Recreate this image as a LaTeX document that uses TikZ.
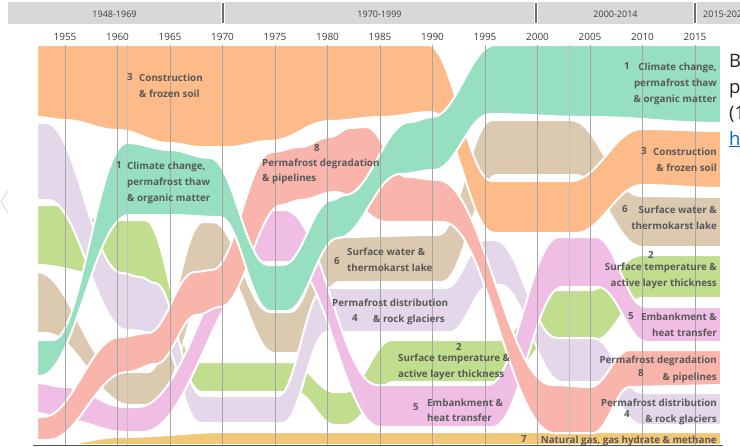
\documentclass[tikz,border=0pt]{standalone}
\usepackage{fontspec}
\setmainfont{Open Sans}
\usetikzlibrary{calc}

\definecolor{orangeband}{RGB}{253,187,137}
\definecolor{tealband}{RGB}{150,224,193}
\definecolor{salmonband}{RGB}{249,180,172}
\definecolor{tanband}{RGB}{219,201,176}
\definecolor{lavband}{RGB}{228,215,233}
\definecolor{limeband}{RGB}{193,221,142}
\definecolor{pinkband}{RGB}{240,190,228}
\definecolor{goldband}{RGB}{240,200,118}
\definecolor{headgrey}{RGB}{216,216,216}
\definecolor{sepgrey}{RGB}{110,110,110}
\definecolor{gridgrey}{RGB}{165,165,165}
\definecolor{axisgrey}{RGB}{85,85,85}
\definecolor{labelgrey}{RGB}{88,88,88}
\definecolor{yeargrey}{RGB}{60,60,60}
\definecolor{linkblue}{RGB}{5,99,193}

\begin{document}
\begin{tikzpicture}[x=1pt,y=-1pt,
    ease/.style={to path={let \p1=(\tikztostart), \p2=(\tikztotarget),
        \n1={(\x2-\x1)/2.6} in .. controls +(\n1,0) and +(-\n1,0) .. (\tikztotarget)}},
    band/.style={draw=white,line width=2pt,line join=round,every to/.style={ease}},
    gridline/.style={draw=gridgrey,line width=0.8pt},
    lbl/.style={font=\fontsize{9.8}{12}\selectfont\bfseries,text=labelgrey,inner sep=0pt},
    yearlbl/.style={font=\fontsize{10}{12}\selectfont,text=yeargrey,inner sep=0pt},
    headlbl/.style={font=\fontsize{9}{11}\selectfont,text=yeargrey,inner sep=0pt},
    sidetxt/.style={font=\fontsize{18.5}{22}\selectfont,text=black!85,inner sep=0pt,anchor=base west}]
\path[use as bounding box] (0,0) rectangle (740,447);

% period header
\fill[headgrey] (8,2) rectangle (221,24);
\fill[headgrey] (225,2) rectangle (534,24);
\fill[headgrey] (538,2) rectangle (693,24);
\fill[headgrey] (697,2) rectangle (740,24);
\fill[sepgrey] (222,3) rectangle (224,23);
\fill[sepgrey] (535,3) rectangle (537,23);
\fill[sepgrey] (694,3) rectangle (696,23);
\node[headlbl] (h1) at (114.5,14) {1948-1969};
\node[headlbl] (h2) at (379.5,14) {1970-1999};
\node[headlbl] (h3) at (615.5,14) {2000-2014};
\node[headlbl,anchor=west] (h4) at (703,14) {2015-2020};

% bands
\fill[goldband,band] (55,445) to (120,437) to (230,432) -- (721,432) -- (721,445) -- cycle;
\fill[limeband,band] (37,205) to (60,205) to (105,220) to (145,220) to (197,362) to (290,362)
  to (335,392) to (345,392) to (392,340) to (500,340) to (547,290) to (590,290) to (642,255)
  -- (721,255) -- (721,298) -- (642,298) to (595,340) to (552,340) to (505,382) -- (394,382)
  to (345,425) to (335,425) to (295,392) -- (202,392) to (150,290) to (105,275) to (37,265) -- cycle;
\fill[tanband,band] (37,272) to (120,372) to (148,372) to (203,222) to (213,222) to (270,312)
  to (290,312) to (334,237) to (438,235) to (492,120) to (571,120) to (640,196) -- (721,197)
  -- (721,247) -- (642,247) to (576,175) to (497,175) to (442,282) -- (339,282) to (295,353)
  to (274,353) to (222,270) to (217,270) to (153,405) to (130,405) to (45,333) to (37,333) -- cycle;
\fill[lavband,band] (37,123) to (46,123) to (122,273) to (140,277) to (155,283) to (202,396)
  to (278,396) to (324,288) to (446,288) to (485,240) to (495,240) to (557,338) to (593,338)
  to (642,393) -- (721,393) -- (721,425) -- (642,425) to (598,382) to (562,382) to (500,285)
  to (490,285) to (450,332) -- (327,332) to (283,423) to (200,423) to (158,333) to (127,330)
  to (48,200) to (37,200) -- cycle;
\fill[pinkband,band] (37,383) to (65,387) to (125,407) to (138,407) to (272,210) to (285,210)
  to (377,385) to (488,385) to (559,237) to (596,237) to (645,307) -- (721,307) -- (721,342)
  -- (647,342) to (598,287) to (562,287) to (493,427) to (380,427) to (290,262) to (268,262)
  to (143,432) to (125,432) to (65,420) to (37,413) -- cycle;
\fill[salmonband,band] (37,417) to (43,417) to (120,337) to (148,333) to (195,272) to (212,270)
  to (272,152) to (300,147) to (330,137) to (350,128) to (366,127) to (407,177) to (438,180)
  to (552,385) to (590,387) to (630,350) -- (721,350) -- (721,385) -- (630,387) to (593,433)
  to (554,433) to (443,222) to (387,222) to (335,192) to (300,200) to (282,205) to (220,307)
  to (197,315) to (156,364) to (127,372) to (48,440) to (37,440) -- cycle;
\fill[orangeband,band] (37,45) -- (428,45) to (492,181) to (571,181) to (642,129) to (721,131)
  -- (721,188) to (642,185) to (576,233) to (494,233) to (432,112) to (380,117) to (330,121)
  to (270,141) to (228,147) to (200,147) to (170,143) to (117,130) to (65,120) to (37,117) -- cycle;
\fill[tealband,band] (37,340) to (53,340) to (127,143) to (170,150) to (210,158) to (268,265)
  to (283,265) to (332,200) to (345,195) to (410,122) to (432,117) to (495,45) -- (721,45)
  -- (721,123) to (590,117) to (490,114) to (434,170) to (400,174) to (338,238) to (287,311)
  to (270,311) to (220,217) to (170,215) to (129,215) to (40,376) -- (37,376) -- cycle;

% year grid
\foreach \yr in {1955,1960,...,2015}{
  \draw[gridline] ({65+(\yr-1955)*10.5},45) -- ({65+(\yr-1955)*10.5},445);
  \node[yearlbl] (y\yr) at ({65+(\yr-1955)*10.5},37) {\yr};
}
\draw[gridline,draw=gridgrey!70] (127,45) -- (127,445);
\draw[gridline,draw=gridgrey!70] (569,45) -- (569,445);
\draw[axisgrey,line width=1.3pt] (33,445.5) -- (723,445.5);

% topic labels, left part
\node[lbl] (n3a) at (130,77) {3};
\node[lbl,anchor=base west] (t3a) at (139,81) {Construction};
\node[lbl,anchor=base west] (t3b) at (139,97) {\& frozen soil};
\node[lbl] (n1a) at (119,165) {1};
\node[lbl,anchor=base west] (t1a) at (127,169) {Climate change,};
\node[lbl,anchor=base west] (t1b) at (127,185) {permafrost thaw};
\node[lbl,anchor=base west] (t1c) at (127,201) {\& organic matter};
\node[lbl] (n8a) at (317,148) {8};
\node[lbl,anchor=base west] (t8a) at (262,166) {Permafrost degradation};
\node[lbl,anchor=base west] (t8b) at (262,181) {\& pipelines};
\node[lbl] (n6a) at (337,261) {6};
\node[lbl,anchor=base west] (t6a) at (347,255) {Surface water \&};
\node[lbl,anchor=base west] (t6b) at (347,271) {thermokarst lake};
\node[lbl,anchor=base west] (t4a) at (332,306) {Permafrost distribution};
\node[lbl] (n4a) at (355,318) {4};
\node[lbl,anchor=base west] (t4b) at (373,322) {\& rock glaciers};
\node[lbl] (n2a) at (459,347) {2};
\node[lbl,anchor=base west] (t2a) at (398,361) {Surface temperature \&};
\node[lbl,anchor=base west] (t2b) at (398,377) {active layer thickness};
\node[lbl] (n5a) at (416,407) {5};
\node[lbl,anchor=base west] (t5a) at (427,406) {Embankment \&};
\node[lbl,anchor=base west] (t5b) at (427,421) {heat transfer};

% topic labels, right part
\node[lbl] (n1b) at (627,66) {1};
\node[lbl,anchor=base east] (t1d) at (717,70) {Climate change,};
\node[lbl,anchor=base east] (t1e) at (717,86) {permafrost thaw};
\node[lbl,anchor=base east] (t1f) at (717,102) {\& organic matter};
\node[lbl] (n3b) at (644,151) {3};
\node[lbl,anchor=base east] (t3c) at (717,155) {Construction};
\node[lbl,anchor=base east] (t3d) at (717,171) {\& frozen soil};
\node[lbl] (n6b) at (625,209) {6};
\node[lbl,anchor=base east] (t6c) at (717,213) {Surface water \&};
\node[lbl,anchor=base east] (t6d) at (717,229) {thermokarst lake};
\node[lbl] (n2b) at (651,255) {2};
\node[lbl,anchor=base east] (t2c) at (717,270) {Surface temperature \&};
\node[lbl,anchor=base east] (t2d) at (717,286) {active layer thickness};
\node[lbl] (n5b) at (631,316) {5};
\node[lbl,anchor=base east] (t5c) at (717,320) {Embankment \&};
\node[lbl,anchor=base east] (t5d) at (717,336) {heat transfer};
\node[lbl,anchor=base east] (t8c) at (717,363) {Permafrost degradation};
\node[lbl] (n8b) at (641,373) {8};
\node[lbl,anchor=base east] (t8d) at (717,380) {\& pipelines};
\node[lbl,anchor=base east] (t4c) at (717,406) {Permafrost distribution};
\node[lbl] (n4b) at (627,414) {4};
\node[lbl,anchor=base east] (t4d) at (717,422) {\& rock glaciers};
\node[lbl] (n7b) at (524,439) {7};
\node[lbl,anchor=base east] (t7a) at (717,443) {Natural gas, gas hydrate \& methane};

% cut-off text at the right edge
\node[sidetxt] (sB) at (729,67) {B};
\node[sidetxt] (sp) at (729,93) {p};
\node[sidetxt] (sq) at (729,119) {(1};
\node[sidetxt,text=linkblue] (sh) at (729,145) {\underline{h}};
\draw[gridgrey!60,line width=0.6pt] (8,191) -- (1,202) -- (8,213);
\end{tikzpicture}
\end{document}
